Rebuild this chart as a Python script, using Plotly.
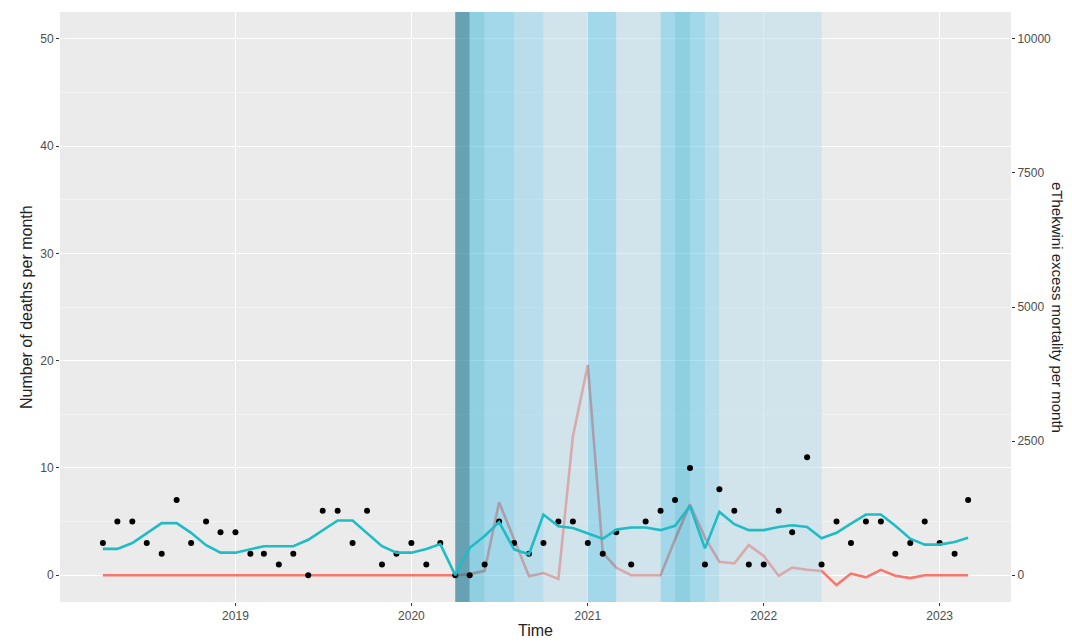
import pandas as pd
import plotly.graph_objects as go

# ---------------- data ----------------
months = pd.date_range("2018-04-01", "2023-03-01", freq="MS").strftime("%Y-%m-%d").tolist()

observed_deaths = [
    3, 5, 5, 3, 2, 7, 3, 5, 4,                 # 2018 Apr-Dec
    4, 2, 2, 1, 2, 0, 6, 6, 3, 6, 1, 2,        # 2019
    3, 1, 3, 0, 0, 1, 5, 3, 2, 3, 5, 5,        # 2020
    3, 2, 4, 1, 5, 6, 7, 10, 1, 8, 6, 1,       # 2021
    1, 6, 4, 11, 1, 5, 3, 5, 5, 2, 3, 5,       # 2022
    3, 2, 7,                                   # 2023 Jan-Mar
]

expected_deaths = [
    2.45, 2.45, 3.0, 3.95, 4.85, 4.85, 3.95, 2.8, 2.1,
    2.1, 2.45, 2.7, 2.7, 2.7, 3.3, 4.15, 5.1, 5.1, 3.95, 2.7, 2.1,
    2.1, 2.45, 2.9, 0.0, 2.55, 3.65, 4.95, 2.4, 1.95, 5.65, 4.55, 4.4,
    3.9, 3.4, 4.25, 4.45, 4.45, 4.2, 4.6, 6.45, 2.5, 5.9, 4.75, 4.2,
    4.2, 4.5, 4.65, 4.5, 3.45, 3.95, 4.8, 5.65, 5.65, 4.6, 3.4, 2.85,
    2.85, 3.1, 3.5,
]

excess_mortality = [
    0, 0, 0, 0, 0, 0, 0, 0, 0,
    0, 0, 0, 0, 0, 0, 0, 0, 0, 0, 0, 0,
    0, 0, 0, 0, 20, 80, 1360, 680, -20, 40, -70, 2580,
    3920, 420, 140, 0, 0, 0, 670, 1320, 700, 250, 220, 560,
    360, -10, 140, 100, 80, -185, 30, -40, 100, -10, -55, 0,
    0, 0, 0,
]

# lockdown alert-level periods
band_start = ["2020-04-01", "2020-05-01", "2020-06-01", "2020-08-01", "2020-10-01",
              "2021-01-01", "2021-03-01", "2021-06-01", "2021-07-01", "2021-08-01",
              "2021-09-01", "2021-10-01"]
band_end = ["2020-05-01", "2020-06-01", "2020-08-01", "2020-10-01", "2021-01-01",
            "2021-03-01", "2021-06-01", "2021-07-01", "2021-08-01", "2021-09-01",
            "2021-10-01", "2022-05-01"]
band_level = [5, 4, 3, 2, 1, 3, 1, 3, 4, 3, 2, 1]

level_colors = {
    5: "rgba(48,128,156,0.70)",
    4: "rgba(49,179,217,0.50)",
    3: "rgba(91,197,233,0.50)",
    2: "rgba(135,207,233,0.50)",
    1: "rgba(185,221,235,0.50)",
}

x_ticks = ["2019-01-01", "2020-01-01", "2021-01-01", "2022-01-01", "2023-01-01"]
x_tick_labels = ["2019", "2020", "2021", "2022", "2023"]
left_ticks = [0, 10, 20, 30, 40, 50]
right_ticks = [0, 2500, 5000, 7500, 10000]

# ---------------- figure ----------------
starts = pd.to_datetime(band_start)
ends = pd.to_datetime(band_end)
mids = (starts + (ends - starts) / 2).strftime("%Y-%m-%d %H:%M:%S").tolist()
widths = [(e - s).total_seconds() * 1000 for s, e in zip(starts, ends)]

fig = go.Figure()

# excess mortality (right axis, primary subplot -> drawn underneath the bands)
fig.add_trace(go.Scatter(
    x=months, y=excess_mortality, mode="lines",
    line=dict(color="#F8766D", width=2.6),
    xaxis="x", yaxis="y", showlegend=False, hoverinfo="skip",
))

# alert-level bands (left axis overlay)
fig.add_trace(go.Bar(
    x=mids, y=[55] * len(mids), base=-2.5, width=widths,
    marker=dict(color=[level_colors[l] for l in band_level], line=dict(width=0)),
    xaxis="x", yaxis="y2", showlegend=False, hoverinfo="skip",
))

# observed deaths
fig.add_trace(go.Scatter(
    x=months, y=observed_deaths, mode="markers",
    marker=dict(color="black", size=6),
    xaxis="x", yaxis="y2", showlegend=False,
))

# expected deaths
fig.add_trace(go.Scatter(
    x=months, y=expected_deaths, mode="lines",
    line=dict(color="#1FBCC6", width=2.6),
    xaxis="x", yaxis="y2", showlegend=False,
))

tick_font = dict(family="Liberation Sans, Arial, sans-serif", size=12, color="#4D4D4D")
title_font = dict(family="Liberation Sans, Arial, sans-serif", size=16, color="#222222")

# the page body adds an 8px offset; size the figure so the panel lands where the reference has it
fig.update_layout(
    width=1064, height=635,
    margin=dict(l=52, r=61, t=4, b=41),
    paper_bgcolor="white",
    plot_bgcolor="#EBEBEB",
    barmode="overlay",
    xaxis=dict(
        type="date",
        range=["2018-01-02", "2023-05-29"],
        tickvals=x_ticks, ticktext=x_tick_labels,
        showgrid=True, gridcolor="white", gridwidth=1.1,
        ticks="outside", ticklen=3, tickcolor="#333333",
        tickfont=tick_font, zeroline=False, showline=False,
    ),
    yaxis=dict(
        side="right",
        range=[-500, 10500],
        tickvals=right_ticks, ticktext=[str(v) for v in right_ticks],
        showgrid=False, zeroline=False,
        ticks="outside", ticklen=3, tickcolor="#333333",
        tickfont=tick_font,
    ),
    yaxis2=dict(
        side="left", overlaying="y",
        range=[-2.5, 52.5],
        tickvals=left_ticks, ticktext=[str(v) for v in left_ticks],
        showgrid=True, gridcolor="white", gridwidth=1.1,
        minor=dict(dtick=5, tick0=0, showgrid=True, gridcolor="#F3F3F3", gridwidth=0.6),
        zeroline=False,
        ticks="outside", ticklen=3, tickcolor="#333333",
        tickfont=tick_font,
    ),
    annotations=[
        dict(text="Number of deaths per month", xref="paper", yref="paper",
             x=0, y=0.5, xanchor="center", yanchor="middle", xshift=-34,
             textangle=-90, showarrow=False, font=title_font),
        dict(text="eThekwini excess mortality per month", xref="paper", yref="paper",
             x=1, y=0.5, xanchor="center", yanchor="middle", xshift=47,
             textangle=90, showarrow=False,
             font=dict(family="Liberation Sans, Arial, sans-serif", size=15, color="#222222")),
        dict(text="Time", xref="paper", yref="paper",
             x=0.5, y=0, xanchor="center", yanchor="middle", yshift=-28,
             showarrow=False, font=title_font),
    ],
)

fig.write_html("out.html")
